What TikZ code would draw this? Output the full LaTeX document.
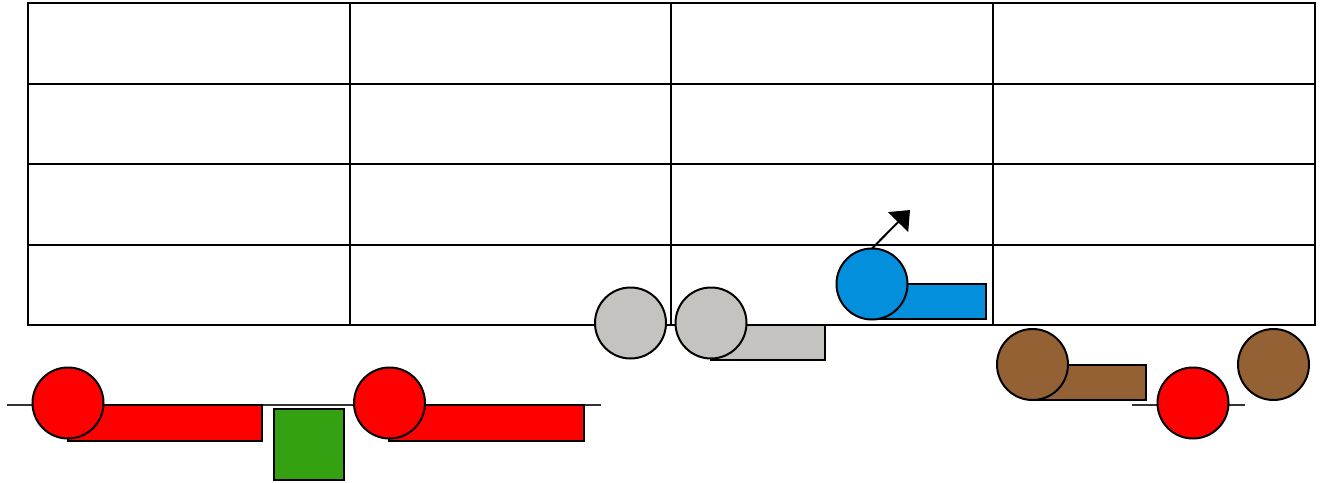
\documentclass[tikz,border=0pt]{standalone}
\usetikzlibrary{arrows.meta}
\definecolor{redc}{RGB}{255,0,0}
\definecolor{greenc}{RGB}{52,161,18}
\definecolor{greyc}{RGB}{196,195,191}
\definecolor{bluec}{RGB}{4,143,221}
\definecolor{brownc}{RGB}{148,97,53}
\tikzset{
  ln/.style={line width=2pt,draw=black},
  wheel/.style={circle,draw=black,line width=2pt,minimum size=71pt,inner sep=0pt,outer sep=0pt},
  bar/.style={draw=black,line width=2pt},
  track/.style={line width=1.7pt,draw=black!80}
}
\begin{document}
\begin{tikzpicture}[x=1pt,y=-1pt]
\useasboundingbox (0,0) rectangle (1320,482);
\fill[white] (0,0) rectangle (1320,482);
% grid
\draw[ln] (28,3) rectangle (1315,325);
\foreach \x in {350,671,993} \draw[ln] (\x,3) -- (\x,325);
\foreach \y in {84,164,244.5} \draw[ln] (28,\y) -- (1315,\y);
% tracks
\coordinate (t1) at (7,405); \coordinate (t2) at (601,405);
\coordinate (t3) at (1132,405); \coordinate (t4) at (1245,405);
\draw[track] (t1) -- (t2);
\draw[track] (t3) -- (t4);
% bars
\draw[bar,fill=redc] (68,405) rectangle (262,440.5);
\draw[bar,fill=redc] (389,405) rectangle (583.5,440.5);
\draw[bar,fill=greenc] (274,409) rectangle (344,480);
\draw[bar,fill=greyc] (711,325) rectangle (825,360);
\draw[bar,fill=bluec] (872,284) rectangle (985.5,319);
\draw[bar,fill=brownc] (1032,364.5) rectangle (1146,400);
% wheels
\node[wheel,fill=redc] (r1) at (68,403) {};
\node[wheel,fill=redc] (r2) at (389.5,403) {};
\node[wheel,fill=redc] (r3) at (1193,403) {};
\node[wheel,fill=greyc] (g1) at (630.5,323) {};
\node[wheel,fill=greyc] (g2) at (711,323) {};
\node[wheel,fill=bluec] (b1) at (872,284) {};
\node[wheel,fill=brownc] (n1) at (1032.5,364.5) {};
\node[wheel,fill=brownc] (n2) at (1273.5,364.5) {};
% arrow
\coordinate (tip) at (910,210);
\draw[line width=2pt,-{Triangle[length=17pt,width=28pt]}] (b1.north) -- (tip);
\end{tikzpicture}
\end{document}
